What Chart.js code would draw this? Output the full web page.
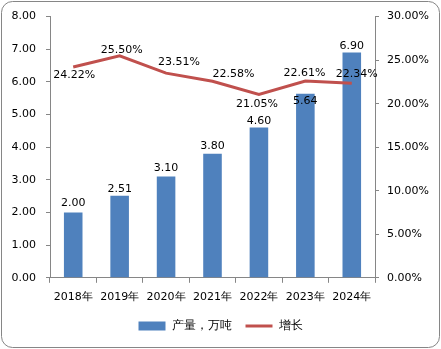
<!DOCTYPE html>
<html>
<head>
<meta charset="utf-8">
<script src="https://cdn.jsdelivr.net/npm/chart.js@4/dist/chart.umd.min.js"></script>
<style>
  html, body { margin: 0; padding: 0; background: #fff; }
  #wrap { width: 441px; height: 349px; position: relative; }
</style>
</head>
<body>
<div id="wrap"><canvas id="myChart" width="441" height="349"></canvas></div>
<script>
const years = ['2018年', '2019年', '2020年', '2021年', '2022年', '2023年', '2024年'];
const output = [2.00, 2.51, 3.10, 3.80, 4.60, 5.64, 6.90];
const growth = [24.22, 25.50, 23.51, 22.58, 21.05, 22.61, 22.34];
const leftTicks = [0, 1, 2, 3, 4, 5, 6, 7, 8];
const rightTicks = [0, 5, 10, 15, 20, 25, 30];

// label nudges (px) for the data labels
const barLabelShift = [-9, -7, -8, -8, -6, 7, -6];
const lineLabelShift = [[1, 8], [2, -6], [13, -11], [21, -7], [-2, 10], [-1, -8], [5, -9]];

const FONT = '"DejaVu Sans", sans-serif';
const axisColor = '#868686';

const frame = {
    id: 'frame',
    beforeDraw(chart) {
        const c = chart.ctx;
        c.save();
        c.fillStyle = '#fff';
        c.fillRect(0, 0, chart.width, chart.height);
        c.strokeStyle = axisColor;
        c.lineWidth = 1;
        c.beginPath();
        c.roundRect(1.5, 1.5, chart.width - 3, chart.height - 3, 11);
        c.stroke();
        c.restore();
    }
};

const labels = {
    id: 'labels',
    afterDatasetsDraw(chart) {
        const c = chart.ctx;
        c.save();
        c.font = '11px ' + FONT;
        c.fillStyle = '#000';
        c.textAlign = 'center';
        c.textBaseline = 'middle';
        chart.getDatasetMeta(0).data.forEach((el, i) => {
            c.fillText(output[i].toFixed(2), el.x, el.y + barLabelShift[i]);
        });
        chart.getDatasetMeta(1).data.forEach((el, i) => {
            c.fillText(growth[i].toFixed(2) + '%', el.x + lineLabelShift[i][0], el.y + lineLabelShift[i][1]);
        });
        c.restore();
    }
};

const ctx = document.getElementById('myChart').getContext('2d');

const myChart = new Chart(ctx, {
    type: 'bar',
    data: {
        labels: years,
        datasets: [
            {
                label: '产量，万吨',
                data: output,
                backgroundColor: '#4F81BD',
                borderWidth: 0,
                barPercentage: 0.4,
                categoryPercentage: 1,
                yAxisID: 'y',
                pointStyle: 'rect',
                order: 2
            },
            {
                type: 'line',
                label: '增长',
                data: growth,
                borderColor: '#C0504D',
                backgroundColor: '#C0504D',
                borderWidth: 3,
                pointRadius: 0,
                pointStyle: 'line',
                tension: 0,
                yAxisID: 'y1',
                order: 1
            }
        ]
    },
    options: {
        responsive: false,
        animation: false,
        layout: {
            padding: { top: 15, left: 0, right: 0, bottom: 7 }
        },
        plugins: {
            legend: {
                position: 'bottom',
                labels: {
                    usePointStyle: true,
                    pointStyleWidth: 27,
                    boxHeight: 9,
                    padding: 14,
                    color: '#000',
                    font: { family: FONT, size: 12 },
                    sort: (a, b) => a.datasetIndex - b.datasetIndex
                }
            },
            tooltip: { enabled: false }
        },
        scales: {
            x: {
                afterFit: s => { s.height -= 6; },
                grid: {
                    offset: true,
                    drawOnChartArea: false,
                    tickLength: 5,
                    color: axisColor
                },
                border: { color: axisColor },
                ticks: {
                    color: '#000',
                    font: { family: FONT, size: 11 },
                    maxRotation: 0,
                    autoSkip: false,
                    padding: 8
                }
            },
            y: {
                position: 'left',
                min: 0,
                max: 8,
                afterBuildTicks: s => { s.ticks = leftTicks.map(v => ({ value: v })); },
                afterFit: s => { s.width = 50; },
                grid: {
                    drawOnChartArea: false,
                    tickLength: 4,
                    color: axisColor
                },
                border: { color: axisColor },
                ticks: {
                    color: '#000',
                    font: { family: FONT, size: 11 },
                    padding: 10,
                    callback: v => v.toFixed(2)
                }
            },
            y1: {
                position: 'right',
                min: 0,
                max: 30,
                afterBuildTicks: s => { s.ticks = rightTicks.map(v => ({ value: v })); },
                afterFit: s => { s.width = 66; },
                grid: {
                    drawOnChartArea: false,
                    tickLength: 4,
                    color: axisColor
                },
                border: { color: axisColor },
                ticks: {
                    color: '#000',
                    font: { family: FONT, size: 11 },
                    padding: 8,
                    callback: v => v.toFixed(2) + '%'
                }
            }
        }
    },
    plugins: [frame, labels]
});
</script>
</body>
</html>
